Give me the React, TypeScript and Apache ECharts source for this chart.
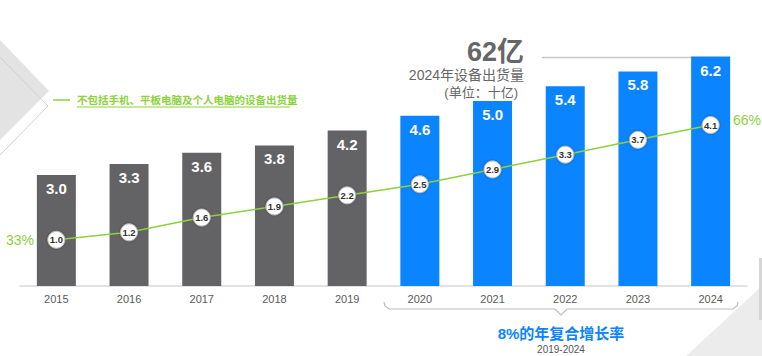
import React, { useEffect, useRef } from "react";
import * as echarts from "echarts";

const years = ["2015", "2016", "2017", "2018", "2019", "2020", "2021", "2022", "2023", "2024"];
const shipments = [3.0, 3.3, 3.6, 3.8, 4.2, 4.6, 5.0, 5.4, 5.8, 6.2];
const excluded = [1.0, 1.2, 1.6, 1.9, 2.2, 2.5, 2.9, 3.3, 3.7, 4.1];
const forecastStart = 5;
const shareStart = "33%";
const shareEnd = "66%";
const headline = "62亿";
const headlineSub = "2024年设备出货量";
const headlineUnit = "(单位：十亿)";
const legendText = "不包括手机、平板电脑及个人电脑的设备出货量";
const cagrText = "8%的年复合增长率";
const cagrRange = "2019-2024";

const GRAY = "#636366";
const BLUE = "#0A84FF";
const GREEN = "#8CD23C";
const FONT = "'Liberation Sans', 'Noto Sans CJK SC', sans-serif";

export default function App() {
  const ref = useRef<HTMLDivElement>(null);
  useEffect(() => {
    if (!ref.current) return;
    const chart = echarts.init(ref.current, undefined, { renderer: "svg" });
    chart.setOption({
      animation: false,
      textStyle: { fontFamily: FONT },
      grid: { left: 20, right: 15, top: 27, bottom: 70 },
      xAxis: {
        type: "category",
        data: years,
        axisLine: { lineStyle: { color: "#d9d9d9", width: 1.5 } },
        axisTick: { show: false },
        axisLabel: { color: "#595959", fontSize: 11, margin: 7, fontFamily: FONT },
      },
      yAxis: [
        { type: "value", min: 0, max: 7, show: false, splitLine: { show: false } },
        { type: "value", min: -0.25, max: 6.75, show: false, splitLine: { show: false } },
      ],
      series: [
        {
          type: "bar",
          barWidth: 39,
          data: shipments.map((v, i) => ({
            value: v,
            itemStyle: { color: i >= forecastStart ? BLUE : GRAY },
          })),
          label: {
            show: true,
            position: "insideTop",
            distance: 6,
            color: "#fff",
            fontSize: 15,
            fontWeight: "bold",
            fontFamily: FONT,
            formatter: (p: any) => Number(p.value).toFixed(1),
          },
          z: 2,
        },
        {
          type: "line",
          yAxisIndex: 1,
          data: excluded,
          lineStyle: { color: GREEN, width: 1.5 },
          symbol: "circle",
          symbolSize: 17,
          itemStyle: {
            color: "#fff",
            borderColor: "#bdbdbd",
            borderWidth: 1,
            shadowColor: "rgba(0,0,0,0.35)",
            shadowBlur: 2,
          },
          label: {
            show: true,
            position: "inside",
            color: "#333",
            fontSize: 9.5,
            fontWeight: "bold",
            fontFamily: FONT,
            formatter: (p: any) => Number(p.value).toFixed(1),
          },
          z: 5,
        },
      ],
      graphic: [
        // background decorations
        {
          type: "polygon",
          z: -10,
          shape: { points: [[0, 40], [49, 91], [0, 140]] },
          style: { fill: "#e3e3e3" },
          silent: true,
        },
        {
          type: "polyline",
          z: -9,
          shape: { points: [[0, 57], [48, 106], [0, 155]] },
          style: { stroke: "#d0d0d0", lineWidth: 1, fill: "none" },
          silent: true,
        },
        {
          type: "polygon",
          z: -10,
          shape: { points: [[762, 286], [762, 356], [686, 356]] },
          style: { fill: "#ececec" },
          silent: true,
        },
        {
          type: "rect",
          z: -9,
          shape: { x: 759, y: 258, width: 3, height: 62 },
          style: { fill: "#d6d6d6" },
          silent: true,
        },
        // legend
        {
          type: "line",
          shape: { x1: 53, y1: 100, x2: 70, y2: 100 },
          style: { stroke: GREEN, lineWidth: 1.5 },
        },
        {
          type: "text",
          x: 77,
          y: 100,
          style: {
            text: legendText,
            fill: GREEN,
            font: `bold 10.5px ${FONT}`,
            textVerticalAlign: "middle",
          },
        },
        {
          type: "line",
          shape: { x1: 77, y1: 107, x2: 290, y2: 107 },
          style: { stroke: GREEN, lineWidth: 1 },
        },
        // share labels
        {
          type: "text",
          x: 34,
          y: 240,
          style: { text: shareStart, fill: GREEN, font: `14px ${FONT}`, textAlign: "right", textVerticalAlign: "middle" },
        },
        {
          type: "text",
          x: 733,
          y: 120,
          style: { text: shareEnd, fill: GREEN, font: `14px ${FONT}`, textAlign: "left", textVerticalAlign: "middle" },
        },
        // headline
        {
          type: "text",
          x: 524,
          y: 52,
          style: { text: headline, fill: "#666", font: `bold 27px ${FONT}`, textAlign: "right", textVerticalAlign: "middle" },
        },
        {
          type: "line",
          shape: { x1: 542, y1: 57.5, x2: 695, y2: 57.5 },
          style: { stroke: "#c8c8c8", lineWidth: 1.5 },
        },
        {
          type: "text",
          x: 524,
          y: 75,
          style: { text: headlineSub, fill: "#666", font: `14px ${FONT}`, textAlign: "right", textVerticalAlign: "middle" },
        },
        {
          type: "text",
          x: 518,
          y: 92,
          style: { text: headlineUnit, fill: "#666", font: `13px ${FONT}`, textAlign: "right", textVerticalAlign: "middle" },
        },
        // brace
        {
          type: "polyline",
          shape: {
            points: [
              [384, 302], [385, 306], [389, 309], [555, 309], [561, 315],
              [567, 309], [733, 309], [737, 306], [738, 302],
            ],
          },
          style: { stroke: "#bdbdbd", lineWidth: 1.2, fill: "none" },
        },
        {
          type: "text",
          x: 561,
          y: 333,
          style: { text: cagrText, fill: BLUE, font: `bold 15px ${FONT}`, textAlign: "center", textVerticalAlign: "middle" },
        },
        {
          type: "text",
          x: 561,
          y: 349,
          style: { text: cagrRange, fill: "#555", font: `10px ${FONT}`, textAlign: "center", textVerticalAlign: "middle" },
        },
      ],
    });
    return () => chart.dispose();
  }, []);
  return <div ref={ref} style={{ width: 762, height: 356, position: "absolute", left: 0, top: 0 }} />;
}
